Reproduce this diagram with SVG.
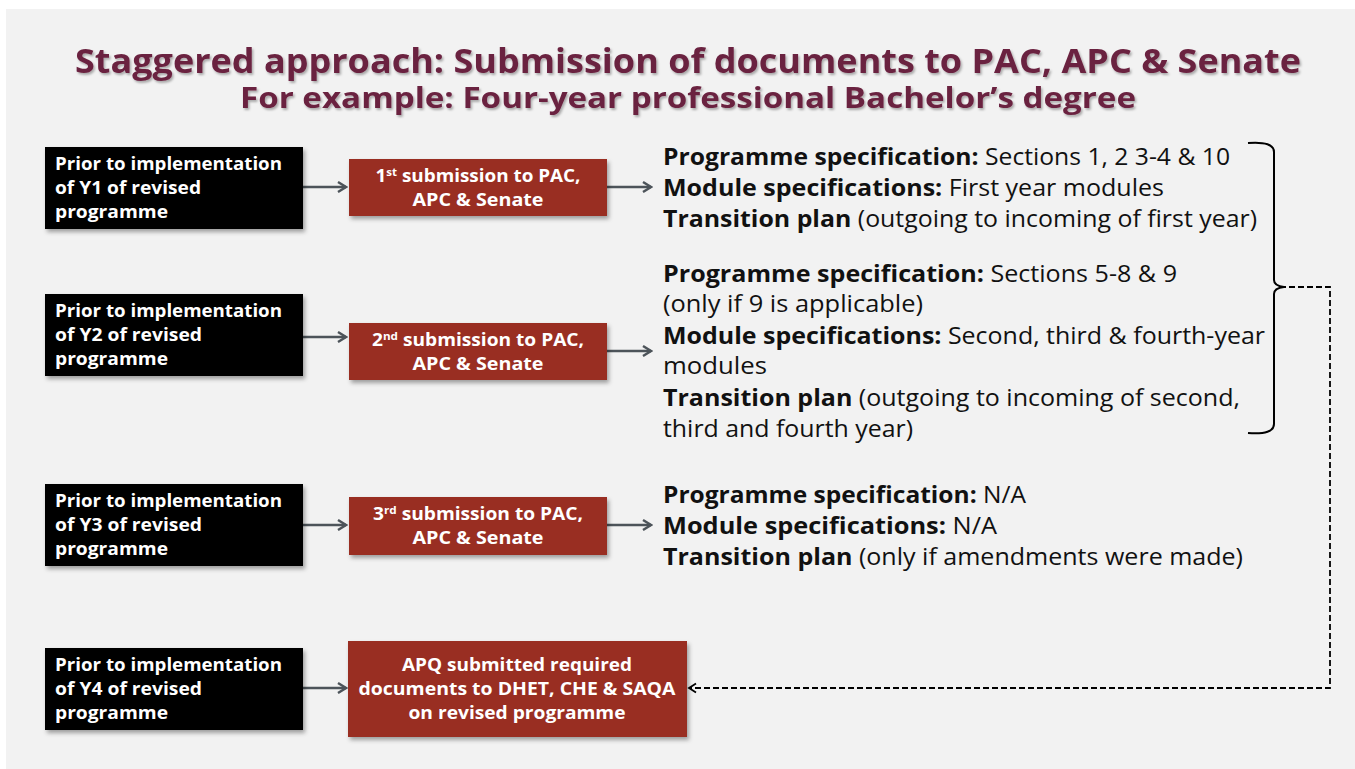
<svg xmlns="http://www.w3.org/2000/svg" width="1355" height="769" viewBox="0 0 1355 769">
<defs>
<filter id="sh" x="-10%" y="-10%" width="130%" height="140%">
<feDropShadow dx="2" dy="3" stdDeviation="2" flood-color="#000" flood-opacity="0.35"/>
</filter>
<filter id="tsh" x="-5%" y="-20%" width="110%" height="150%">
<feDropShadow dx="1.5" dy="2" stdDeviation="1.2" flood-color="#000" flood-opacity="0.3"/>
</filter>
<marker id="ah" viewBox="0 0 12 12" refX="10" refY="6" markerWidth="12" markerHeight="12" markerUnits="userSpaceOnUse" orient="auto">
<path d="M2,1 L10,6 L2,11" fill="none" stroke="#4d545a" stroke-width="2.4"/>
</marker>
<marker id="dh" viewBox="0 0 12 12" refX="10" refY="6" markerWidth="12" markerHeight="12" markerUnits="userSpaceOnUse" orient="auto">
<path d="M3,1.5 L10,6 L3,10.5" fill="none" stroke="#000" stroke-width="1.8"/>
</marker>
</defs>
<style>
.title{font-family:"Open Sans","Liberation Sans",sans-serif;font-weight:700;fill:#6b2340;text-anchor:middle}
.blk{fill:#000}
.red{fill:#992e20}
.wt{font-family:"Open Sans","Liberation Sans",sans-serif;font-weight:700;font-size:18px;fill:#fff}
.ct{text-anchor:middle}
.rt{font-family:"Open Sans","Liberation Sans",sans-serif;font-size:23px;fill:#111}
.b{font-weight:700}
.arr{stroke:#4d545a;stroke-width:2.6;fill:none;marker-end:url(#ah)}
.dash{stroke:#000;stroke-width:1.8;fill:none;stroke-dasharray:6,3}
</style>
<rect x="0" y="0" width="1355" height="769" fill="#fff"/>
<rect x="6" y="9" width="1349" height="760" fill="#f2f2f2"/>

<g id="title" filter="url(#tsh)">
<text class="title" x="688" y="73" font-size="34" textLength="1226" lengthAdjust="spacingAndGlyphs">Staggered approach: Submission of documents to PAC, APC &amp; Senate</text>
<text class="title" x="688" y="108" font-size="28" textLength="896" lengthAdjust="spacingAndGlyphs">For example: Four-year professional Bachelor’s degree</text>
</g>

<g id="connectors">
<line class="arr" x1="303" y1="187" x2="346" y2="187"/>
<line class="arr" x1="607" y1="187" x2="651" y2="187"/>
<line class="arr" x1="303" y1="337" x2="346" y2="337"/>
<line class="arr" x1="607" y1="351" x2="651" y2="351"/>
<line class="arr" x1="303" y1="525" x2="346" y2="525"/>
<line class="arr" x1="607" y1="525" x2="651" y2="525"/>
<line class="arr" x1="303" y1="688" x2="346" y2="688"/>
<path class="dash" d="M1280,287 H1330 V688 H689" marker-end="url(#dh)"/>
</g>

<g id="brace">
<path d="M1248,143 Q1274,141 1274,152 V280 Q1274,286 1284,287 Q1274,288 1274,294 V424 Q1274,435 1248,433" fill="none" stroke="#000" stroke-width="2"/>
</g>

<g id="y1">
<rect class="blk" x="45" y="147" width="258" height="82" filter="url(#sh)"/>
<text class="wt" x="55" y="170" textLength="227" lengthAdjust="spacingAndGlyphs">Prior to implementation</text>
<text class="wt" x="55" y="194" textLength="146" lengthAdjust="spacingAndGlyphs">of Y1 of revised</text>
<text class="wt" x="55" y="218" textLength="113" lengthAdjust="spacingAndGlyphs">programme</text>
</g>

<g id="y2">
<rect class="blk" x="45" y="294" width="258" height="82" filter="url(#sh)"/>
<text class="wt" x="55" y="317" textLength="227" lengthAdjust="spacingAndGlyphs">Prior to implementation</text>
<text class="wt" x="55" y="341" textLength="147" lengthAdjust="spacingAndGlyphs">of Y2 of revised</text>
<text class="wt" x="55" y="365" textLength="113" lengthAdjust="spacingAndGlyphs">programme</text>
</g>

<g id="y3">
<rect class="blk" x="45" y="484" width="258" height="82" filter="url(#sh)"/>
<text class="wt" x="55" y="507" textLength="227" lengthAdjust="spacingAndGlyphs">Prior to implementation</text>
<text class="wt" x="55" y="531" textLength="147" lengthAdjust="spacingAndGlyphs">of Y3 of revised</text>
<text class="wt" x="55" y="555" textLength="113" lengthAdjust="spacingAndGlyphs">programme</text>
</g>

<g id="y4">
<rect class="blk" x="45" y="648" width="258" height="82" filter="url(#sh)"/>
<text class="wt" x="55" y="671" textLength="227" lengthAdjust="spacingAndGlyphs">Prior to implementation</text>
<text class="wt" x="55" y="695" textLength="147" lengthAdjust="spacingAndGlyphs">of Y4 of revised</text>
<text class="wt" x="55" y="719" textLength="113" lengthAdjust="spacingAndGlyphs">programme</text>
</g>

<g id="s1">
<rect class="red" x="349" y="159" width="258" height="57" filter="url(#sh)"/>
<text class="wt ct" x="478" y="182" textLength="205" lengthAdjust="spacingAndGlyphs">1<tspan font-size="11" dy="-6">st</tspan><tspan dy="6"> submission to PAC,</tspan></text>
<text class="wt ct" x="478" y="206" textLength="131" lengthAdjust="spacingAndGlyphs">APC &amp; Senate</text>
</g>

<g id="s2">
<rect class="red" x="349" y="323" width="258" height="57" filter="url(#sh)"/>
<text class="wt ct" x="478" y="346" textLength="212" lengthAdjust="spacingAndGlyphs">2<tspan font-size="11" dy="-6">nd</tspan><tspan dy="6"> submission to PAC,</tspan></text>
<text class="wt ct" x="478" y="370" textLength="131" lengthAdjust="spacingAndGlyphs">APC &amp; Senate</text>
</g>

<g id="s3">
<rect class="red" x="349" y="497" width="258" height="58" filter="url(#sh)"/>
<text class="wt ct" x="478" y="520" textLength="210" lengthAdjust="spacingAndGlyphs">3<tspan font-size="11" dy="-6">rd</tspan><tspan dy="6"> submission to PAC,</tspan></text>
<text class="wt ct" x="478" y="544" textLength="131" lengthAdjust="spacingAndGlyphs">APC &amp; Senate</text>
</g>

<g id="apq">
<rect class="red" x="348" y="641" width="339" height="96" filter="url(#sh)"/>
<text class="wt ct" x="517" y="671" textLength="230" lengthAdjust="spacingAndGlyphs">APQ submitted required</text>
<text class="wt ct" x="517" y="695" textLength="317" lengthAdjust="spacingAndGlyphs">documents to DHET, CHE &amp; SAQA</text>
<text class="wt ct" x="517" y="719" textLength="217" lengthAdjust="spacingAndGlyphs">on revised programme</text>
</g>

<g id="t1">
<text class="rt" x="663" y="165" textLength="567" lengthAdjust="spacingAndGlyphs"><tspan class="b">Programme specification:</tspan> Sections 1, 2 3-4 &amp; 10</text>
<text class="rt" x="663" y="196" textLength="501" lengthAdjust="spacingAndGlyphs"><tspan class="b">Module specifications:</tspan> First year modules</text>
<text class="rt" x="663" y="227" textLength="594" lengthAdjust="spacingAndGlyphs"><tspan class="b">Transition plan</tspan> (outgoing to incoming of first year)</text>
</g>
<g id="t2">
<text class="rt" x="663" y="282" textLength="514" lengthAdjust="spacingAndGlyphs"><tspan class="b">Programme specification:</tspan> Sections 5-8 &amp; 9</text>
<text class="rt" x="663" y="312" textLength="260" lengthAdjust="spacingAndGlyphs">(only if 9 is applicable)</text>
<text class="rt" x="663" y="344" textLength="602" lengthAdjust="spacingAndGlyphs"><tspan class="b">Module specifications:</tspan> Second, third &amp; fourth-year</text>
<text class="rt" x="663" y="374" textLength="104" lengthAdjust="spacingAndGlyphs">modules</text>
<text class="rt" x="663" y="406" textLength="577" lengthAdjust="spacingAndGlyphs"><tspan class="b">Transition plan</tspan> (outgoing to incoming of second,</text>
<text class="rt" x="663" y="437" textLength="250" lengthAdjust="spacingAndGlyphs">third and fourth year)</text>
</g>
<g id="t3">
<text class="rt" x="663" y="503" textLength="363" lengthAdjust="spacingAndGlyphs"><tspan class="b">Programme specification:</tspan> N/A</text>
<text class="rt" x="663" y="534" textLength="334" lengthAdjust="spacingAndGlyphs"><tspan class="b">Module specifications:</tspan> N/A</text>
<text class="rt" x="663" y="565" textLength="580" lengthAdjust="spacingAndGlyphs"><tspan class="b">Transition plan</tspan> (only if amendments were made)</text>
</g>
</svg>
